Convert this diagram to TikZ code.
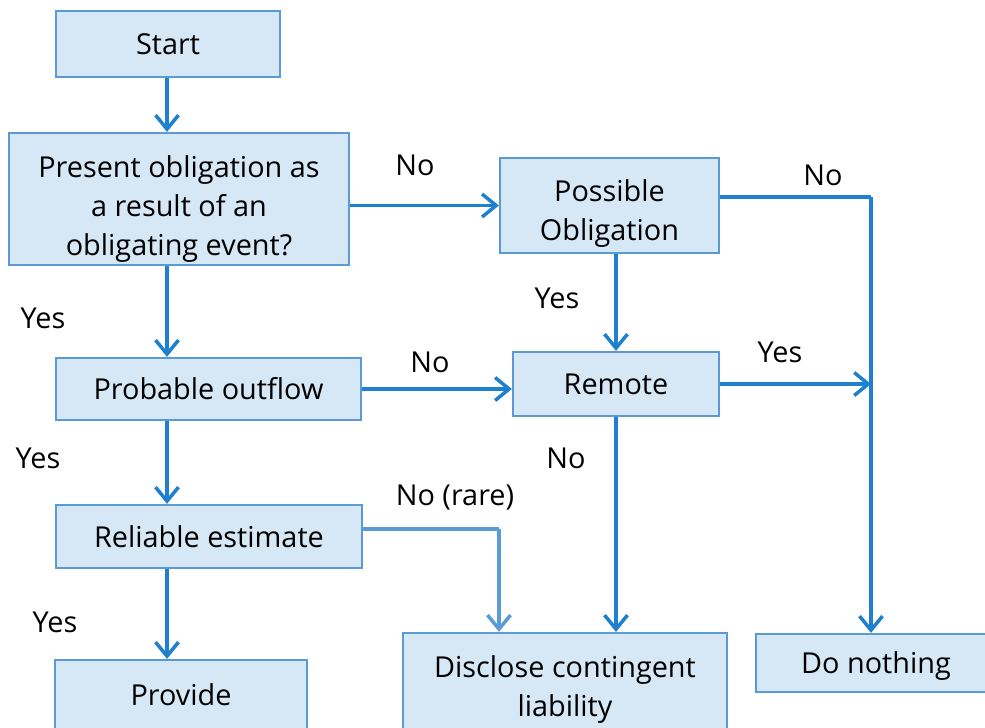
\documentclass[tikz,border=0pt]{standalone}
\usepackage{fontspec}
\setmainfont{Open Sans}
\usepackage{xcolor}
\usepackage{tikz}
\usetikzlibrary{arrows.meta}

\definecolor{boxfill}{RGB}{214,232,246}
\definecolor{boxline}{RGB}{91,155,213}
\definecolor{flowline}{RGB}{30,128,206}

\tikzset{
    box/.style={draw=boxline, line width=1.3pt, fill=boxfill, align=center,
        inner sep=0pt, font=\fontsize{16.4}{22.2}\selectfont},
    flow/.style={draw=flowline, line width=2pt, -{Straight Barb[length=2.8mm, width=4.6mm]}},
    lbl/.style={font=\fontsize{16.4}{22.2}\selectfont}
}

\begin{document}
\begin{tikzpicture}
    \useasboundingbox (0,0) rectangle (19.7,-14.54);

    \node[box, minimum width=4.48cm, minimum height=1.32cm] (start) at (3.36,-0.88) {Start};
    \node[box, minimum width=6.8cm, minimum height=2.64cm, text height=64.5pt, text depth=0pt] (present) at (3.58,-3.98) {Present obligation as\\ a result of an\\ obligating event?};
    \node[box, minimum width=4.38cm, minimum height=1.9cm, text height=40pt, text depth=0pt] (possible) at (12.19,-4.11) {Possible\\ Obligation};
    \node[box, minimum width=6.1cm, minimum height=1.24cm] (probable) at (4.17,-7.78) {Probable outflow};
    \node[box, minimum width=4.12cm, minimum height=1.28cm] (remote) at (12.32,-7.68) {Remote};
    \node[box, minimum width=6.12cm, minimum height=1.26cm] (reliable) at (4.18,-10.73) {Reliable estimate};
    \node[box, minimum width=5.04cm, minimum height=1.4cm] (provide) at (3.62,-13.9) {Provide};
    \node[box, minimum width=6.48cm, minimum height=2.14cm, text depth=0.5pt] (disclose) at (11.3,-13.73) {Disclose contingent\\ liability};
    \node[box, minimum width=4.8cm, minimum height=1.16cm, text depth=0pt] (donothing) at (17.52,-13.26) {Do nothing};

    \coordinate (nojoin) at (17.42,-3.94);
    \coordinate (rarejoin) at (9.98,-10.58);

    \node[lbl] (noa) at (8.3,-3.3) {No};
    \node[lbl] (nob) at (16.46,-3.5) {No};
    \node[lbl] (yesa) at (11.14,-5.96) {Yes};
    \node[lbl] (yesb) at (0.86,-6.36) {Yes};
    \node[lbl] (noc) at (8.6,-7.24) {No};
    \node[lbl] (yesc) at (15.6,-7.04) {Yes};
    \node[lbl] (yesd) at (0.76,-9.16) {Yes};
    \node[lbl] (nod) at (11.32,-9.16) {No};
    \node[lbl] (rare) at (9.1,-9.94) {No (rare)};
    \node[lbl] (yese) at (1.1,-12.44) {Yes};

    \draw[flow] (start.south -| 3.34,0) -- (present.north -| 3.34,0);
    \draw[flow] (present.east |- possible.west) -- (possible.west);
    \draw[flow, -] (possible.east |- nojoin) -- (nojoin);
    \draw[flow] (nojoin) -- (nojoin |- donothing.north);
    \draw[flow] (remote.north |- possible.south) -- (remote.north);
    \draw[flow] (present.south -| 3.34,0) -- (probable.north -| 3.34,0);
    \draw[flow] (probable.east) -- (probable.east -| remote.west);
    \draw[flow] (remote.east) -- (remote.east -| nojoin);
    \draw[flow] (probable.south -| 3.34,0) -- (reliable.north -| 3.34,0);
    \draw[flow] (remote.south) -- (remote.south |- disclose.north);
    \draw[flow, draw=boxline, -] (reliable.east |- rarejoin) -- (rarejoin);
    \draw[flow, draw=boxline] (rarejoin) -- (rarejoin |- disclose.north);
    \draw[flow] (reliable.south -| 3.34,0) -- (provide.north -| 3.34,0);

\end{tikzpicture}
\end{document}
